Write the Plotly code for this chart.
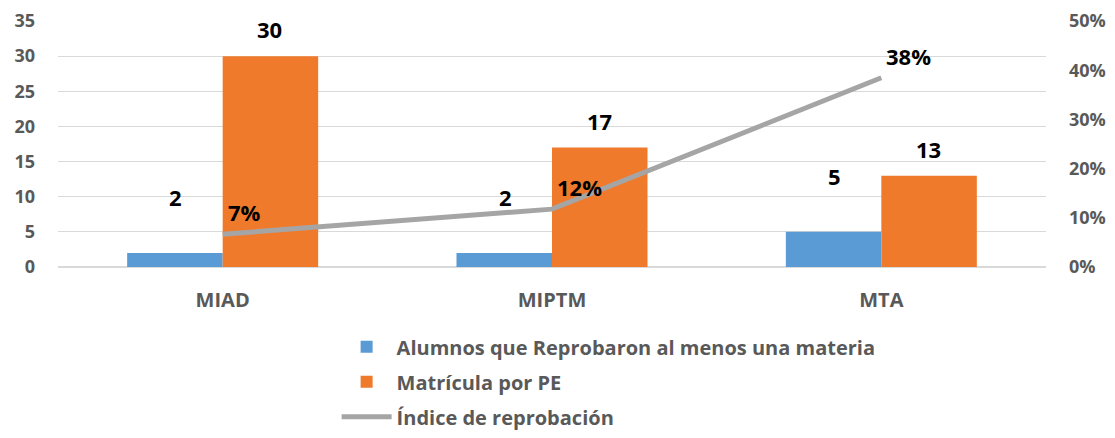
import plotly.graph_objects as go

categories = ["MIAD", "MIPTM", "MTA"]
reprobados = [2, 2, 5]
matricula = [30, 17, 13]
indice = [0.0667, 0.1176, 0.3846]
indice_labels = ["7%", "12%", "38%"]

xpos = list(range(len(categories)))
FONT = "Open Sans"
GRAY = "#595959"

fig = go.Figure()
fig.add_trace(go.Bar(
    x=xpos, y=reprobados, name="Alumnos que Reprobaron al menos una materia",
    marker=dict(color="#5B9BD5", line=dict(width=0)), legendgroup="a",
))
fig.add_trace(go.Bar(
    x=xpos, y=matricula, name="Matrícula por PE",
    marker=dict(color="#F07A2C", line=dict(width=0)), legendgroup="b",
))
fig.add_trace(go.Scatter(
    x=xpos, y=indice, name="Índice de reprobación", yaxis="y2", mode="lines",
    line=dict(color="#A5A5A5", width=5), legendgroup="c",
))

LBL = dict(family=FONT, size=22, color="black", weight="bold")
ann = []
for i in xpos:
    ann.append(dict(x=i, y=reprobados[i], text=str(reprobados[i]), xref="x", yref="y",
                    showarrow=False, xshift=-47, yshift=56, yanchor="middle", font=LBL))
    ann.append(dict(x=i, y=matricula[i], text=str(matricula[i]), xref="x", yref="y",
                    showarrow=False, xshift=47, yshift=27, yanchor="middle", font=LBL))
    ann.append(dict(x=i, y=indice[i], text=indice_labels[i], xref="x", yref="y2",
                    showarrow=False, xshift=3, yshift=22, xanchor="left", yanchor="middle",
                    font=LBL))

TICK = dict(family=FONT, size=18, color=GRAY, weight="bold")
fig.update_layout(
    width=1107, height=430,
    margin=dict(l=50, r=69, t=13, b=171, autoexpand=False),
    paper_bgcolor="white", plot_bgcolor="white",
    barmode="group", bargap=0.42, bargroupgap=0,
    font=dict(family=FONT, color=GRAY, size=18),
    xaxis=dict(range=[-0.5, 2.5], tickvals=xpos, ticktext=categories, showgrid=False,
               zeroline=False, showline=False, ticks="", ticklabelstandoff=19,
               tickfont=dict(family=FONT, size=20, color=GRAY, weight="bold")),
    yaxis=dict(range=[0, 35], dtick=5, showgrid=True, gridcolor="#D9D9D9", gridwidth=1.3,
               zeroline=True, zerolinecolor="#D9D9D9", zerolinewidth=1.5, showline=False,
               ticks="", ticklabelstandoff=22, tickfont=TICK),
    yaxis2=dict(range=[0, 0.5], dtick=0.1, tickformat=".0%", overlaying="y", side="right",
                showgrid=False, zeroline=False, showline=False, ticks="", ticklabelstandoff=22,
                tickfont=TICK),
    legend=dict(orientation="v", x=0.282, xanchor="left", y=-0.245, yanchor="top",
                traceorder="grouped", tracegroupgap=6, itemwidth=50,
                font=dict(family=FONT, size=20, color=GRAY, weight="bold"),
                bgcolor="rgba(0,0,0,0)"),
    annotations=ann,
    showlegend=True,
)

fig.write_html("out.html")
